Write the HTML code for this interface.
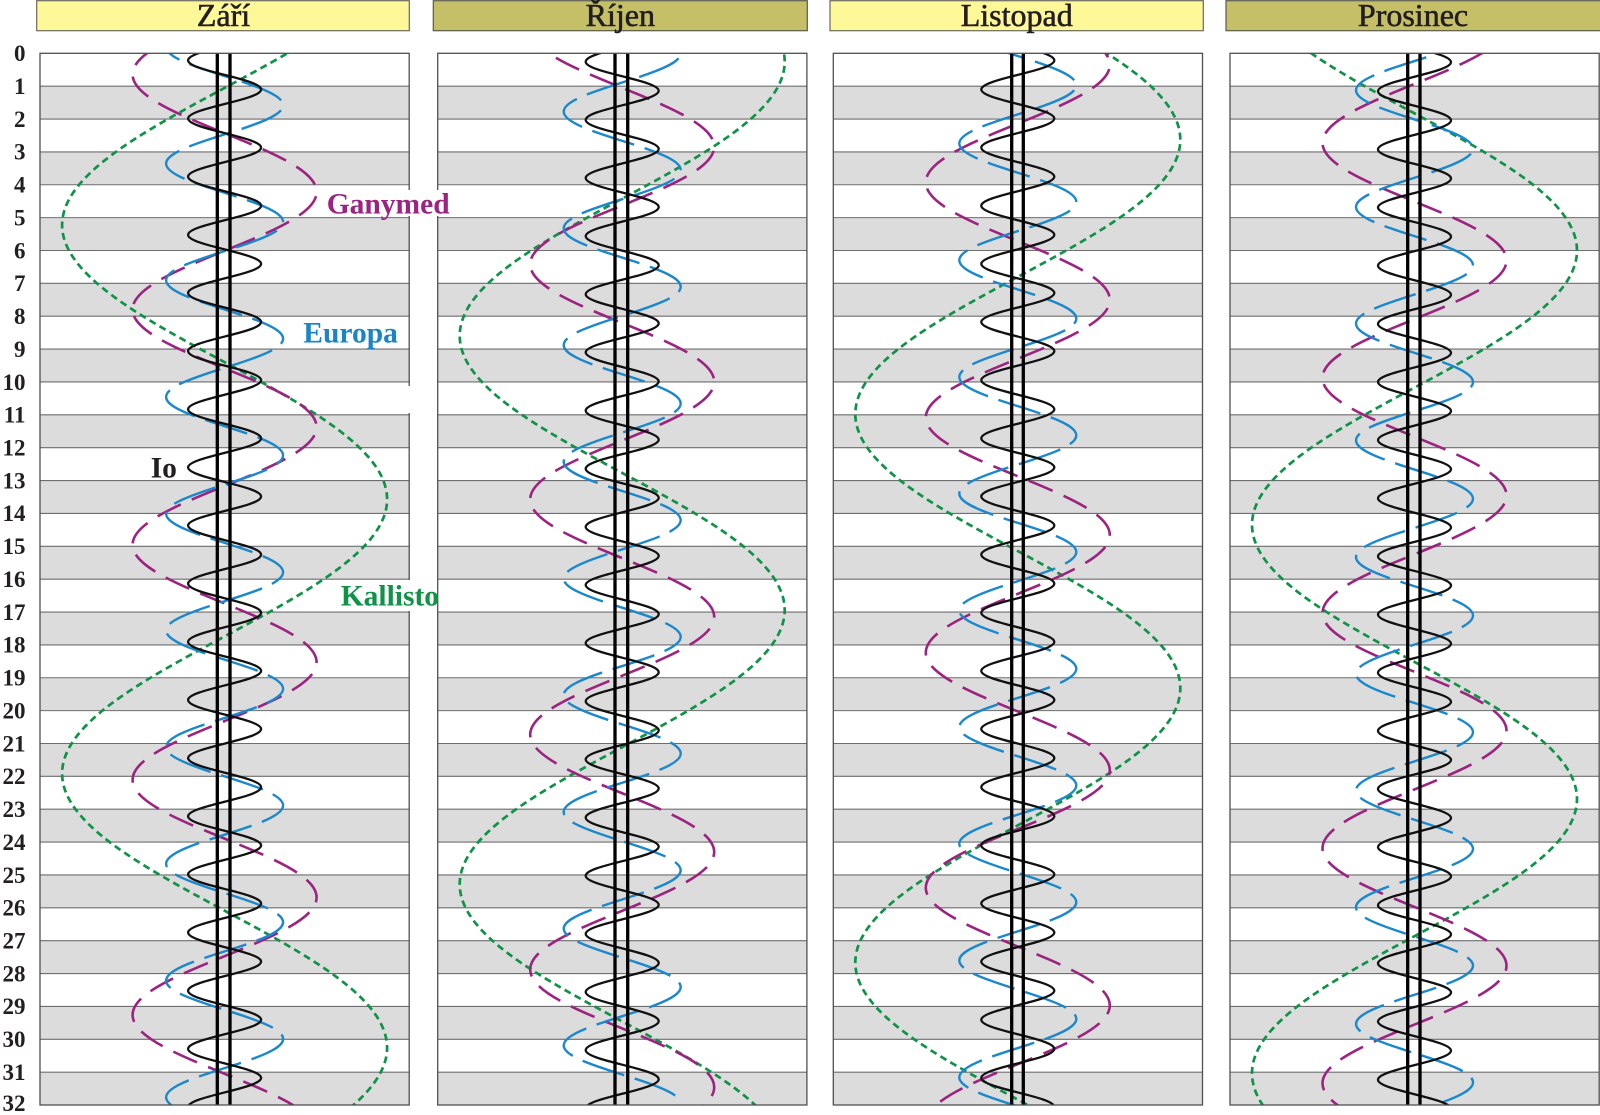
<!DOCTYPE html>
<html><head><meta charset="utf-8"><style>
html,body{margin:0;padding:0;background:#fff;width:1600px;height:1115px;overflow:hidden;}
svg{display:block;overflow:hidden;}
.ax{font-family:"Liberation Serif",serif;font-weight:bold;font-size:23px;fill:#231f20;}
.hd{font-family:"Liberation Serif",serif;font-size:32px;fill:#231f20;stroke:#231f20;stroke-width:0.6px;}
.ml{font-family:"Liberation Serif",serif;font-weight:bold;font-size:29.5px;}
</style></head><body>
<svg width="1600" height="1115" viewBox="0 0 1600 1115" xmlns="http://www.w3.org/2000/svg">
<defs>
<clipPath id="c1"><rect x="40" y="53.3" width="369.2" height="1051.7"/></clipPath>
<clipPath id="c2"><rect x="437.7" y="53.3" width="369.2" height="1051.7"/></clipPath>
<clipPath id="c3"><rect x="833.3" y="53.3" width="369.2" height="1051.7"/></clipPath>
<clipPath id="c4"><rect x="1230" y="53.3" width="369.2" height="1051.7"/></clipPath>
<g id="bands" fill="#dcdcdc">
<rect x="0" y="86.17" width="369.2" height="32.87"/>
<rect x="0" y="151.90" width="369.2" height="32.87"/>
<rect x="0" y="217.63" width="369.2" height="32.87"/>
<rect x="0" y="283.36" width="369.2" height="32.87"/>
<rect x="0" y="349.09" width="369.2" height="32.87"/>
<rect x="0" y="414.83" width="369.2" height="32.87"/>
<rect x="0" y="480.56" width="369.2" height="32.87"/>
<rect x="0" y="546.29" width="369.2" height="32.87"/>
<rect x="0" y="612.02" width="369.2" height="32.87"/>
<rect x="0" y="677.75" width="369.2" height="32.87"/>
<rect x="0" y="743.49" width="369.2" height="32.87"/>
<rect x="0" y="809.22" width="369.2" height="32.87"/>
<rect x="0" y="874.95" width="369.2" height="32.87"/>
<rect x="0" y="940.68" width="369.2" height="32.87"/>
<rect x="0" y="1006.41" width="369.2" height="32.87"/>
<rect x="0" y="1072.15" width="369.2" height="32.85"/>
</g>
<path id="grid" fill="none" stroke="#6e6e6e" stroke-width="1.1" d="M0 86.17H369.2M0 119.03H369.2M0 151.90H369.2M0 184.76H369.2M0 217.63H369.2M0 250.50H369.2M0 283.36H369.2M0 316.23H369.2M0 349.09H369.2M0 381.96H369.2M0 414.83H369.2M0 447.69H369.2M0 480.56H369.2M0 513.42H369.2M0 546.29H369.2M0 579.16H369.2M0 612.02H369.2M0 644.89H369.2M0 677.75H369.2M0 710.62H369.2M0 743.49H369.2M0 776.35H369.2M0 809.22H369.2M0 842.08H369.2M0 874.95H369.2M0 907.82H369.2M0 940.68H369.2M0 973.55H369.2M0 1006.41H369.2M0 1039.28H369.2M0 1072.15H369.2"/>
<path id="io" d="M36.5 0
c0 5.2609-17.801 9.7956-36.5 14.5361c-18.699 4.7405-36.5 9.2752-36.5 14.5361c0 5.2609 17.801 9.7956 36.5 14.5361c18.699 4.7405 36.5 9.2752 36.5 14.5361
c0 5.2609-17.801 9.7956-36.5 14.5361c-18.699 4.7405-36.5 9.2752-36.5 14.5361c0 5.2609 17.801 9.7956 36.5 14.5361c18.699 4.7405 36.5 9.2752 36.5 14.5361
c0 5.2609-17.801 9.7956-36.5 14.5361c-18.699 4.7405-36.5 9.2752-36.5 14.5361c0 5.2609 17.801 9.7956 36.5 14.5361c18.699 4.7405 36.5 9.2752 36.5 14.5361
c0 5.2609-17.801 9.7956-36.5 14.5361c-18.699 4.7405-36.5 9.2752-36.5 14.5361c0 5.2609 17.801 9.7956 36.5 14.5361c18.699 4.7405 36.5 9.2752 36.5 14.5361
c0 5.2609-17.801 9.7956-36.5 14.5361c-18.699 4.7405-36.5 9.2752-36.5 14.5361c0 5.2609 17.801 9.7956 36.5 14.5361c18.699 4.7405 36.5 9.2752 36.5 14.5361
c0 5.2609-17.801 9.7956-36.5 14.5361c-18.699 4.7405-36.5 9.2752-36.5 14.5361c0 5.2609 17.801 9.7956 36.5 14.5361c18.699 4.7405 36.5 9.2752 36.5 14.5361
c0 5.2609-17.801 9.7956-36.5 14.5361c-18.699 4.7405-36.5 9.2752-36.5 14.5361c0 5.2609 17.801 9.7956 36.5 14.5361c18.699 4.7405 36.5 9.2752 36.5 14.5361
c0 5.2609-17.801 9.7956-36.5 14.5361c-18.699 4.7405-36.5 9.2752-36.5 14.5361c0 5.2609 17.801 9.7956 36.5 14.5361c18.699 4.7405 36.5 9.2752 36.5 14.5361
c0 5.2609-17.801 9.7956-36.5 14.5361c-18.699 4.7405-36.5 9.2752-36.5 14.5361c0 5.2609 17.801 9.7956 36.5 14.5361c18.699 4.7405 36.5 9.2752 36.5 14.5361
c0 5.2609-17.801 9.7956-36.5 14.5361c-18.699 4.7405-36.5 9.2752-36.5 14.5361c0 5.2609 17.801 9.7956 36.5 14.5361c18.699 4.7405 36.5 9.2752 36.5 14.5361
c0 5.2609-17.801 9.7956-36.5 14.5361c-18.699 4.7405-36.5 9.2752-36.5 14.5361c0 5.2609 17.801 9.7956 36.5 14.5361c18.699 4.7405 36.5 9.2752 36.5 14.5361
c0 5.2609-17.801 9.7956-36.5 14.5361c-18.699 4.7405-36.5 9.2752-36.5 14.5361c0 5.2609 17.801 9.7956 36.5 14.5361c18.699 4.7405 36.5 9.2752 36.5 14.5361
c0 5.2609-17.801 9.7956-36.5 14.5361c-18.699 4.7405-36.5 9.2752-36.5 14.5361c0 5.2609 17.801 9.7956 36.5 14.5361c18.699 4.7405 36.5 9.2752 36.5 14.5361
c0 5.2609-17.801 9.7956-36.5 14.5361c-18.699 4.7405-36.5 9.2752-36.5 14.5361c0 5.2609 17.801 9.7956 36.5 14.5361c18.699 4.7405 36.5 9.2752 36.5 14.5361
c0 5.2609-17.801 9.7956-36.5 14.5361c-18.699 4.7405-36.5 9.2752-36.5 14.5361c0 5.2609 17.801 9.7956 36.5 14.5361c18.699 4.7405 36.5 9.2752 36.5 14.5361
c0 5.2609-17.801 9.7956-36.5 14.5361c-18.699 4.7405-36.5 9.2752-36.5 14.5361c0 5.2609 17.801 9.7956 36.5 14.5361c18.699 4.7405 36.5 9.2752 36.5 14.5361
c0 5.2609-17.801 9.7956-36.5 14.5361c-18.699 4.7405-36.5 9.2752-36.5 14.5361c0 5.2609 17.801 9.7956 36.5 14.5361c18.699 4.7405 36.5 9.2752 36.5 14.5361
c0 5.2609-17.801 9.7956-36.5 14.5361c-18.699 4.7405-36.5 9.2752-36.5 14.5361c0 5.2609 17.801 9.7956 36.5 14.5361c18.699 4.7405 36.5 9.2752 36.5 14.5361
c0 5.2609-17.801 9.7956-36.5 14.5361c-18.699 4.7405-36.5 9.2752-36.5 14.5361c0 5.2609 17.801 9.7956 36.5 14.5361c18.699 4.7405 36.5 9.2752 36.5 14.5361
c0 5.2609-17.801 9.7956-36.5 14.5361c-18.699 4.7405-36.5 9.2752-36.5 14.5361c0 5.2609 17.801 9.7956 36.5 14.5361c18.699 4.7405 36.5 9.2752 36.5 14.5361
c0 5.2609-17.801 9.7956-36.5 14.5361c-18.699 4.7405-36.5 9.2752-36.5 14.5361c0 5.2609 17.801 9.7956 36.5 14.5361c18.699 4.7405 36.5 9.2752 36.5 14.5361"/>
<path id="eu" d="M58.5 0
c0 10.5602-28.53 19.6627-58.5 29.1783c-29.97 9.5156-58.5 18.6181-58.5 29.1783c0 10.5602 28.53 19.6627 58.5 29.1783c29.97 9.5156 58.5 18.6181 58.5 29.1783
c0 10.5602-28.53 19.6627-58.5 29.1783c-29.97 9.5156-58.5 18.6181-58.5 29.1783c0 10.5602 28.53 19.6627 58.5 29.1783c29.97 9.5156 58.5 18.6181 58.5 29.1783
c0 10.5602-28.53 19.6627-58.5 29.1783c-29.97 9.5156-58.5 18.6181-58.5 29.1783c0 10.5602 28.53 19.6627 58.5 29.1783c29.97 9.5156 58.5 18.6181 58.5 29.1783
c0 10.5602-28.53 19.6627-58.5 29.1783c-29.97 9.5156-58.5 18.6181-58.5 29.1783c0 10.5602 28.53 19.6627 58.5 29.1783c29.97 9.5156 58.5 18.6181 58.5 29.1783
c0 10.5602-28.53 19.6627-58.5 29.1783c-29.97 9.5156-58.5 18.6181-58.5 29.1783c0 10.5602 28.53 19.6627 58.5 29.1783c29.97 9.5156 58.5 18.6181 58.5 29.1783
c0 10.5602-28.53 19.6627-58.5 29.1783c-29.97 9.5156-58.5 18.6181-58.5 29.1783c0 10.5602 28.53 19.6627 58.5 29.1783c29.97 9.5156 58.5 18.6181 58.5 29.1783
c0 10.5602-28.53 19.6627-58.5 29.1783c-29.97 9.5156-58.5 18.6181-58.5 29.1783c0 10.5602 28.53 19.6627 58.5 29.1783c29.97 9.5156 58.5 18.6181 58.5 29.1783
c0 10.5602-28.53 19.6627-58.5 29.1783c-29.97 9.5156-58.5 18.6181-58.5 29.1783c0 10.5602 28.53 19.6627 58.5 29.1783c29.97 9.5156 58.5 18.6181 58.5 29.1783
c0 10.5602-28.53 19.6627-58.5 29.1783c-29.97 9.5156-58.5 18.6181-58.5 29.1783c0 10.5602 28.53 19.6627 58.5 29.1783c29.97 9.5156 58.5 18.6181 58.5 29.1783
c0 10.5602-28.53 19.6627-58.5 29.1783c-29.97 9.5156-58.5 18.6181-58.5 29.1783c0 10.5602 28.53 19.6627 58.5 29.1783c29.97 9.5156 58.5 18.6181 58.5 29.1783
c0 10.5602-28.53 19.6627-58.5 29.1783c-29.97 9.5156-58.5 18.6181-58.5 29.1783c0 10.5602 28.53 19.6627 58.5 29.1783c29.97 9.5156 58.5 18.6181 58.5 29.1783"/>
<path id="ga" d="M92 0
c0 21.2756-44.868 39.6142-92 58.7854c-47.132 19.1711-92 37.5097-92 58.7854c0 21.2756 44.868 39.6142 92 58.7854c47.132 19.1711 92 37.5097 92 58.7854
c0 21.2756-44.868 39.6142-92 58.7854c-47.132 19.1711-92 37.5097-92 58.7854c0 21.2756 44.868 39.6142 92 58.7854c47.132 19.1711 92 37.5097 92 58.7854
c0 21.2756-44.868 39.6142-92 58.7854c-47.132 19.1711-92 37.5097-92 58.7854c0 21.2756 44.868 39.6142 92 58.7854c47.132 19.1711 92 37.5097 92 58.7854
c0 21.2756-44.868 39.6142-92 58.7854c-47.132 19.1711-92 37.5097-92 58.7854c0 21.2756 44.868 39.6142 92 58.7854c47.132 19.1711 92 37.5097 92 58.7854
c0 21.2756-44.868 39.6142-92 58.7854c-47.132 19.1711-92 37.5097-92 58.7854c0 21.2756 44.868 39.6142 92 58.7854c47.132 19.1711 92 37.5097 92 58.7854
c0 21.2756-44.868 39.6142-92 58.7854c-47.132 19.1711-92 37.5097-92 58.7854c0 21.2756 44.868 39.6142 92 58.7854c47.132 19.1711 92 37.5097 92 58.7854"/>
<path id="ca" d="M162.5 0
c0 49.628-79.251 92.406-162.5 137.1253c-83.249 44.719-162.5 87.497-162.5 137.1253c0 49.628 79.251 92.406 162.5 137.1253c83.249 44.719 162.5 87.497 162.5 137.1253
c0 49.628-79.251 92.406-162.5 137.1253c-83.249 44.719-162.5 87.497-162.5 137.1253c0 49.628 79.251 92.406 162.5 137.1253c83.249 44.719 162.5 87.497 162.5 137.1253
c0 49.628-79.251 92.406-162.5 137.1253c-83.249 44.719-162.5 87.497-162.5 137.1253c0 49.628 79.251 92.406 162.5 137.1253c83.249 44.719 162.5 87.497 162.5 137.1253"/>
</defs>

<!-- headers -->
<rect x="36.7" y="0.7" width="372.6" height="30" fill="#fff899" stroke="#6a6a5a" stroke-width="1.2"/>
<rect x="433.3" y="0.7" width="374" height="30" fill="#c5bf68" stroke="#5a5a4a" stroke-width="1.2"/>
<rect x="830" y="0.7" width="373.3" height="30" fill="#fff899" stroke="#6a6a5a" stroke-width="1.2"/>
<rect x="1226" y="0.7" width="375" height="30" fill="#c5bf68" stroke="#5a5a4a" stroke-width="1.2"/>
<text class="hd" x="223.5" y="26" text-anchor="middle">Září</text>
<text class="hd" x="620.3" y="26" text-anchor="middle">Říjen</text>
<text class="hd" x="1016.7" y="26" text-anchor="middle">Listopad</text>
<text class="hd" x="1413" y="26" text-anchor="middle">Prosinec</text>

<!-- panel backgrounds -->
<g transform="translate(40,0)"><use href="#bands"/><use href="#grid"/></g>
<g transform="translate(437.7,0)"><use href="#bands"/><use href="#grid"/></g>
<g transform="translate(833.3,0)"><use href="#bands"/><use href="#grid"/></g>
<g transform="translate(1230,0)"><use href="#bands"/><use href="#grid"/></g>

<!-- Callisto -->
<g fill="none" stroke="#0f9347" stroke-width="2.7" stroke-dasharray="7 4.5">
<g clip-path="url(#c1)"><use href="#ca" x="224.6" y="-49.21"/></g>
<g clip-path="url(#c2)"><use href="#ca" x="622.2" y="-486.98"/></g>
<g clip-path="url(#c3)"><use href="#ca" x="1017.8" y="-408.76"/></g>
<g clip-path="url(#c4)"><use href="#ca" x="1414.5" y="-298.00"/></g>
</g>
<!-- Ganymede -->
<g fill="none" stroke="#9c2380" stroke-width="2.6" stroke-dasharray="26 12">
<g clip-path="url(#c1)"><use href="#ga" x="224.6" y="-43.16"/></g>
<g clip-path="url(#c2)"><use href="#ga" x="622.2" y="-88.52"/></g>
<g clip-path="url(#c3)"><use href="#ga" x="1017.8" y="-170.35"/></g>
<g clip-path="url(#c4)"><use href="#ga" x="1414.5" y="25.20"/></g>
</g>
<!-- Europa -->
<g fill="none" stroke="#1a88cc" stroke-width="2.4" stroke-dasharray="44 11">
<g clip-path="url(#c1)"><use href="#eu" x="224.6" y="-11.48"/></g>
<g clip-path="url(#c2)"><use href="#eu" x="622.2" y="-63.41"/></g>
<g clip-path="url(#c3)"><use href="#eu" x="1017.8" y="-31.53"/></g>
<g clip-path="url(#c4)"><use href="#eu" x="1414.5" y="31.90"/></g>
</g>
<!-- Io -->
<g fill="none" stroke="#111" stroke-width="2.3">
<g clip-path="url(#c1)"><use href="#io" x="224.6" y="31.31"/></g>
<g clip-path="url(#c2)"><use href="#io" x="622.2" y="32.63"/></g>
<g clip-path="url(#c3)"><use href="#io" x="1017.8" y="2.23"/></g>
<g clip-path="url(#c4)"><use href="#io" x="1414.5" y="4.03"/></g>
</g>

<!-- Jupiter -->
<g stroke="#000" stroke-width="3.3">
<line x1="217.3" y1="53.3" x2="217.3" y2="1105"/><line x1="230" y1="53.3" x2="230" y2="1105"/>
<line x1="615" y1="53.3" x2="615" y2="1105"/><line x1="627.7" y1="53.3" x2="627.7" y2="1105"/>
<line x1="1011.7" y1="53.3" x2="1011.7" y2="1105"/><line x1="1023.3" y1="53.3" x2="1023.3" y2="1105"/>
<line x1="1407.7" y1="53.3" x2="1407.7" y2="1105"/><line x1="1420" y1="53.3" x2="1420" y2="1105"/>
</g>

<!-- panel borders -->
<g fill="none" stroke="#505050" stroke-width="1.3">
<rect x="40" y="53.3" width="369.2" height="1051.7"/>
<rect x="437.7" y="53.3" width="369.2" height="1051.7"/>
<rect x="833.3" y="53.3" width="369.2" height="1051.7"/>
<rect x="1230" y="53.3" width="369.2" height="1051.7"/>
</g>

<!-- label backgrounds -->
<rect x="405" y="190" width="47" height="26" fill="#fff"/>
<rect x="405" y="386" width="8" height="27" fill="#fff"/>
<rect x="404" y="580" width="32" height="31" fill="#fff"/>

<!-- moon labels -->
<text class="ml" x="326.7" y="213.3" fill="#9c2380">Ganymed</text>
<text class="ml" x="303.3" y="342.7" fill="#1a84c6">Europa</text>
<text class="ml" x="150.7" y="477.3" fill="#231f20">Io</text>
<text class="ml" x="340.7" y="605.7" fill="#0f9347">Kallisto</text>

<!-- axis labels -->
<g class="ax" text-anchor="end">
<text x="25.5" y="61.1">0</text>
<text x="25.5" y="93.97">1</text>
<text x="25.5" y="126.83">2</text>
<text x="25.5" y="159.70">3</text>
<text x="25.5" y="192.56">4</text>
<text x="25.5" y="225.43">5</text>
<text x="25.5" y="258.30">6</text>
<text x="25.5" y="291.16">7</text>
<text x="25.5" y="324.03">8</text>
<text x="25.5" y="356.89">9</text>
<text x="25.5" y="389.76">10</text>
<text x="25.5" y="422.63">11</text>
<text x="25.5" y="455.49">12</text>
<text x="25.5" y="488.36">13</text>
<text x="25.5" y="521.22">14</text>
<text x="25.5" y="554.09">15</text>
<text x="25.5" y="586.96">16</text>
<text x="25.5" y="619.82">17</text>
<text x="25.5" y="652.69">18</text>
<text x="25.5" y="685.55">19</text>
<text x="25.5" y="718.42">20</text>
<text x="25.5" y="751.29">21</text>
<text x="25.5" y="784.15">22</text>
<text x="25.5" y="817.02">23</text>
<text x="25.5" y="849.88">24</text>
<text x="25.5" y="882.75">25</text>
<text x="25.5" y="915.62">26</text>
<text x="25.5" y="948.48">27</text>
<text x="25.5" y="981.35">28</text>
<text x="25.5" y="1014.21">29</text>
<text x="25.5" y="1047.08">30</text>
<text x="25.5" y="1079.95">31</text>
<text x="25.5" y="1111">32</text>
</g>
</svg>
</body></html>
